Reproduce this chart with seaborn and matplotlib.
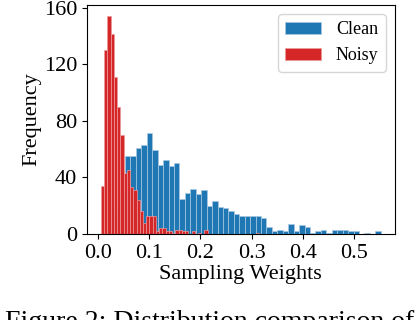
import numpy as np
import pandas as pd
import matplotlib
matplotlib.use("Agg")
import matplotlib.pyplot as plt
import seaborn as sns

# -----------------------------
# Histogram data (counts per bin)
# -----------------------------
clean_start, clean_width = 0.0214, 0.0106
clean_counts = [5, 15, 30, 55, 55, 61, 63, 71, 59, 49,
                52, 48, 50, 25, 29, 32, 28, 31, 20, 23,
                19, 18, 16, 14, 13, 13, 13, 13, 11, 5,
                2, 3, 2, 7, 2, 6, 5, 1, 2, 3,
                1, 3, 3, 3, 2, 2, 0, 1, 0, 2]

noisy_start, noisy_width = 0.0064, 0.0063
noisy_counts = [34, 130, 154, 141, 111, 90, 70, 43, 45, 33,
                31, 24, 16, 8, 13, 13, 13, 2, 4, 4,
                2, 2, 1, 3, 3, 2, 2, 0, 2, 0,
                1, 0, 3, 0, 0, 0, 0, 0, 0, 0,
                0, 0, 0, 0, 0, 0, 0, 0, 1, 0]

x_ticks = [0.0, 0.1, 0.2, 0.3, 0.4, 0.5]
y_ticks = [0, 40, 80, 120, 160]

clean_edges = clean_start + clean_width * np.arange(len(clean_counts) + 1)
noisy_edges = noisy_start + noisy_width * np.arange(len(noisy_counts) + 1)

clean_df = pd.DataFrame({
    "weight": (clean_edges[:-1] + clean_edges[1:]) / 2,
    "count": clean_counts,
})
noisy_df = pd.DataFrame({
    "weight": (noisy_edges[:-1] + noisy_edges[1:]) / 2,
    "count": noisy_counts,
})

# -----------------------------
# Plot
# -----------------------------
plt.rcParams["font.family"] = ["Liberation Serif", "DejaVu Serif"]

fig = plt.figure(figsize=(4.2, 3.2), dpi=100)
ax = fig.add_axes([0.207, 0.269, 0.733, 0.715])

sns.histplot(data=clean_df, x="weight", weights="count", bins=list(clean_edges),
             color="#1f77b4", edgecolor="#a9c9e3", linewidth=0.5,
             alpha=1, label="Clean", ax=ax)
sns.histplot(data=noisy_df, x="weight", weights="count", bins=list(noisy_edges),
             color="#d62728", edgecolor="#ee9a9a", linewidth=0.5,
             alpha=1, label="Noisy", ax=ax)

ax.set_xticks(x_ticks)
ax.set_xticklabels([f"{t:.1f}" for t in x_ticks])
ax.set_yticks(y_ticks)
ax.tick_params(labelsize=16)
ax.set_xlabel("Sampling Weights", fontsize=16, labelpad=2)
ax.set_ylabel("Frequency", fontsize=16, labelpad=2)
ax.legend(loc="upper right", fontsize=13)

# caption of the source figure, cut off at the bottom edge as in the original
fig.text(0.012, -0.027, "Figure 2: Distribution comparison of",
         fontsize=20, va="baseline", ha="left")

fig.savefig("out.png", dpi=100)
